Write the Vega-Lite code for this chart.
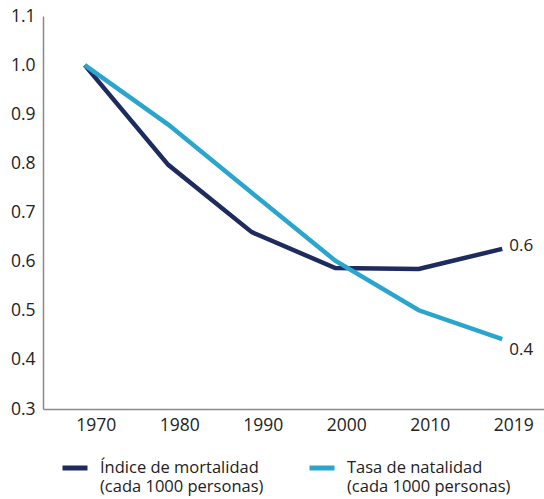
{
  "$schema": "https://vega.github.io/schema/vega-lite/v6.json",
  "autosize": {"type": "none"},
  "width": 501,
  "height": 393,
  "padding": {"left": 43, "top": 16, "right": 0, "bottom": 90},
  "background": "white",
  "config": {
    "view": {"stroke": null},
    "font": "Open Sans",
    "axis": {"labelFont": "Open Sans", "labelFontSize": 17.5, "labelColor": "#222222", "domainColor": "#8a8a8a", "domainWidth": 1.5, "grid": false, "ticks": false, "title": null}
  },
  "data": {
    "values": [
      {"year": "1970", "series": "Índice de mortalidad|(cada 1000 personas)", "value": 1.0},
      {"year": "1980", "series": "Índice de mortalidad|(cada 1000 personas)", "value": 0.797},
      {"year": "1990", "series": "Índice de mortalidad|(cada 1000 personas)", "value": 0.66},
      {"year": "2000", "series": "Índice de mortalidad|(cada 1000 personas)", "value": 0.587},
      {"year": "2010", "series": "Índice de mortalidad|(cada 1000 personas)", "value": 0.585},
      {"year": "2019", "series": "Índice de mortalidad|(cada 1000 personas)", "value": 0.626},
      {"year": "1970", "series": "Tasa de natalidad|(cada 1000 personas)", "value": 1.0},
      {"year": "1980", "series": "Tasa de natalidad|(cada 1000 personas)", "value": 0.879},
      {"year": "1990", "series": "Tasa de natalidad|(cada 1000 personas)", "value": 0.74},
      {"year": "2000", "series": "Tasa de natalidad|(cada 1000 personas)", "value": 0.602},
      {"year": "2010", "series": "Tasa de natalidad|(cada 1000 personas)", "value": 0.501},
      {"year": "2019", "series": "Tasa de natalidad|(cada 1000 personas)", "value": 0.442}
    ]
  },
  "encoding": {
    "x": {"field": "year", "type": "ordinal", "scale": {"type": "point", "padding": 0.5},
          "axis": {"labelAngle": 0, "labelPadding": 7, "labelOffset": 11}},
    "y": {"field": "value", "type": "quantitative", "scale": {"domain": [0.3, 1.1], "nice": false, "zero": false},
          "axis": {"values": [0.3, 0.4, 0.5, 0.6, 0.7, 0.8, 0.9, 1.0, 1.1], "format": ".1f", "labelPadding": 8}}
  },
  "layer": [
    {
      "mark": {"type": "line", "strokeWidth": 4.5, "strokeJoin": "miter"},
      "encoding": {
        "color": {"field": "series", "type": "nominal",
          "scale": {"domain": ["Índice de mortalidad|(cada 1000 personas)", "Tasa de natalidad|(cada 1000 personas)"], "range": ["#1d2b5e", "#2aa5cd"]},
          "legend": {"orient": "none", "legendX": 17, "legendY": 442, "direction": "horizontal", "columns": 2, "title": null,
            "symbolType": "M-1,-0.4H1", "symbolSize": 625, "symbolStrokeWidth": 5, "symbolOffset": 0,
            "labelExpr": "split(datum.label, '|')", "labelFont": "Open Sans", "labelFontSize": 16.5, "labelColor": "#222222",
            "labelOffset": 10, "labelLimit": 300, "columnPadding": 35, "labelBaseline": "alphabetic"}
        }
      }
    },
    {
      "transform": [{"filter": "datum.year == '2019' && indexof(datum.series, 'mortalidad') >= 0"}],
      "mark": {"type": "text", "align": "left", "dx": 7, "dy": -3, "font": "Open Sans", "fontSize": 17, "color": "#222222"},
      "encoding": {"text": {"field": "value", "type": "quantitative", "format": ".1f"}}
    },
    {
      "transform": [{"filter": "datum.year == '2019' && indexof(datum.series, 'natalidad') >= 0"}],
      "mark": {"type": "text", "align": "left", "dx": 7, "dy": 11, "font": "Open Sans", "fontSize": 17, "color": "#222222"},
      "encoding": {"text": {"field": "value", "type": "quantitative", "format": ".1f"}}
    }
  ]
}
